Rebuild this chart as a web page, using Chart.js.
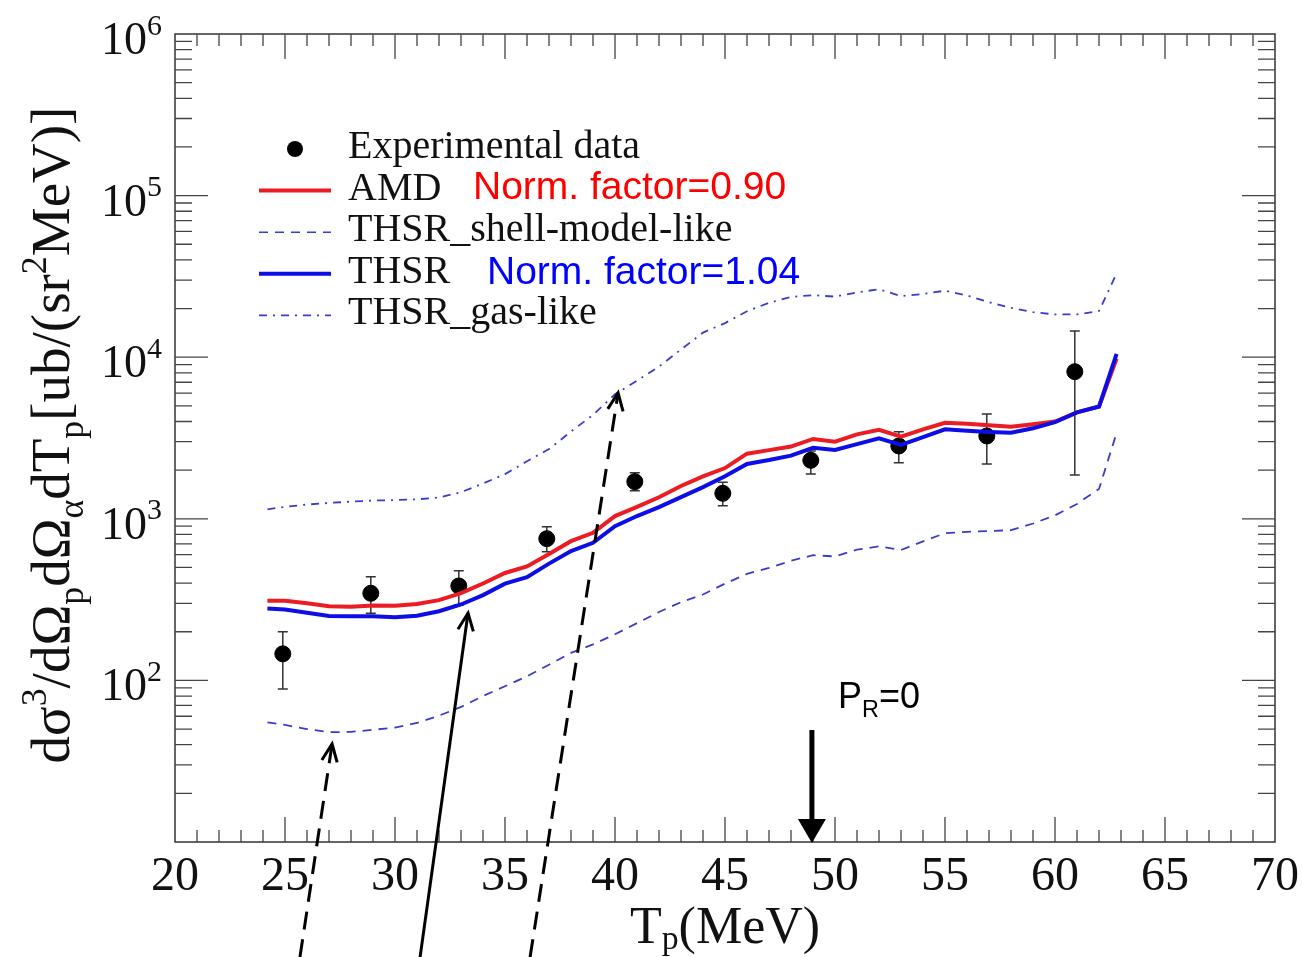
<!DOCTYPE html>
<html>
<head>
<meta charset="utf-8">
<script src="https://cdn.jsdelivr.net/npm/chart.js@4.4.1/dist/chart.umd.min.js"></script>
<style>
  html, body { margin: 0; padding: 0; background: #fff; }
  #wrap { width: 1302px; height: 957px; }
</style>
</head>
<body>
<div id="wrap"><canvas id="xsec"></canvas></div>
<script>
// proton energy grid of the model curves (MeV)
const modelT = [24.2, 25, 26, 27, 28, 29, 30, 31, 32, 33, 34, 35, 36, 37, 38, 39, 40, 41, 42, 43,
                44, 45, 46, 47, 48, 49, 50, 51, 52, 53, 54, 55, 56, 57, 58, 59, 60, 61, 62, 62.8];
const amd = [311, 311, 300, 288, 286, 291, 290, 297, 314, 347, 398, 462, 507, 606, 727, 819, 1040, 1186, 1360, 1595,
             1830, 2060, 2530, 2660, 2800, 3120, 3000, 3330, 3550, 3220, 3580, 3930, 3870, 3790, 3715, 3850, 4000, 4560, 4940, 9800];
const thsr = [279, 275, 262, 250, 249, 249, 246, 251, 268, 295, 337, 397, 435, 528, 632, 710, 900, 1040, 1180, 1361,
              1570, 1835, 2185, 2310, 2460, 2750, 2670, 2900, 3150, 2870, 3200, 3580, 3510, 3450, 3410, 3630, 3960, 4560, 4950, 10500];
const thsrShell = [55, 53, 50, 47.8, 48, 49.5, 51, 54.5, 60.5, 68.5, 80, 92, 106, 125, 148, 167, 193, 226, 265, 305,
                   340, 397, 456, 497, 550, 595, 585, 644, 675, 641, 725, 815, 830, 840, 850, 935, 1050, 1236, 1530, 3400];
const thsrGas = [1145, 1185, 1225, 1253, 1277, 1297, 1305, 1320, 1355, 1460, 1655, 1890, 2270, 2700, 3470, 4390, 5900, 7150, 8750, 11160,
                 14200, 16250, 19250, 21700, 23600, 24200, 23700, 25200, 26300, 23900, 24600, 25800, 24100, 21900, 20200, 19000, 18400, 18400, 19300, 33000];

// measured cross sections with error bar ends
const expT = [24.9, 28.9, 32.9, 36.9, 40.9, 44.9, 48.9, 52.9, 56.9, 60.9];
const expVal = [146, 346, 384, 753, 1697, 1438, 2301, 2822, 3254, 8135];
const expHi = [200, 438, 477, 894, 1929, 1682, 2628, 3459, 4452, 14520];
const expLo = [88.5, 260, 293, 626, 1493, 1205, 1893, 2225, 2183, 1866];

const xTickLabels = [20, 25, 30, 35, 40, 45, 50, 55, 60, 65, 70];
const yTickExponents = [2, 3, 4, 5, 6];

// pointer arrows, tail and tip as [T, value]
const arrows = [
  { from: [25.68, 1.94], to: [27.14, 40.4], dashed: true },
  { from: [31.14, 1.94], to: [33.32, 261], dashed: false },
  { from: [36.14, 1.94], to: [40.14, 6005], dashed: true }
];
// P_R = 0 marker
const prArrow = { T: 48.95, top: 49.3, tip: 10 };

const SERIF = '"Liberation Serif", "Times New Roman", serif';
const SANS = '"Liberation Sans", Arial, sans-serif';
const RED = '#ec1c24';
const BLUE = '#0d0de6';
const DASHBLUE = '#3c3ccc';

function pts(xs, ys) {
  return xs.map((x, i) => ({ x: x, y: ys[i] }));
}

// text runs with sub/superscripts
function richWidth(ctx, parts, size, family) {
  let w = 0;
  for (const p of parts) {
    const s = (p.sub || p.sup) ? size * 0.65 : size;
    ctx.font = s + 'px ' + family;
    w += ctx.measureText(p.t).width;
  }
  return w;
}
function drawRich(ctx, parts, x, y, size, family, subDrop) {
  let cx = x;
  const drop = subDrop === undefined ? 0.25 : subDrop;
  for (const p of parts) {
    const s = (p.sub || p.sup) ? size * 0.65 : size;
    ctx.font = s + 'px ' + family;
    const dy = p.sub ? size * drop : (p.sup ? -size * 0.42 : 0);
    ctx.fillText(p.t, cx, y + dy);
    cx += ctx.measureText(p.t).width;
  }
  return cx - x;
}

function drawArrow(ctx, x0, y0, x1, y1, dashed) {
  ctx.save();
  ctx.strokeStyle = '#000';
  ctx.lineWidth = 3;
  ctx.setLineDash(dashed ? [18, 10] : []);
  ctx.beginPath();
  ctx.moveTo(x0, y0);
  ctx.lineTo(x1, y1);
  ctx.stroke();
  ctx.setLineDash([]);
  const a = Math.atan2(y1 - y0, x1 - x0);
  const len = 19, spread = 0.42;
  ctx.beginPath();
  ctx.moveTo(x1 - len * Math.cos(a - spread), y1 - len * Math.sin(a - spread));
  ctx.lineTo(x1, y1);
  ctx.lineTo(x1 - len * Math.cos(a + spread), y1 - len * Math.sin(a + spread));
  ctx.stroke();
  ctx.restore();
}

const axesPlugin = {
  id: 'axesPlugin',
  beforeDatasetsDraw(chart) {
    const { ctx, scales: { x, y } } = chart;
    ctx.save();
    ctx.strokeStyle = '#333';
    ctx.lineWidth = 1.5;
    expT.forEach((t, i) => {
      const px = x.getPixelForValue(t);
      const top = y.getPixelForValue(expHi[i]);
      const bot = y.getPixelForValue(expLo[i]);
      ctx.beginPath();
      ctx.moveTo(px, top); ctx.lineTo(px, bot);
      ctx.moveTo(px - 5, top); ctx.lineTo(px + 5, top);
      ctx.moveTo(px - 5, bot); ctx.lineTo(px + 5, bot);
      ctx.stroke();
    });
    ctx.restore();
  },
  afterDraw(chart) {
    const { ctx, chartArea: ca, scales: { x, y } } = chart;
    ctx.save();

    // frame
    ctx.strokeStyle = '#333';
    ctx.lineWidth = 1.5;
    ctx.strokeRect(ca.left, ca.top, ca.right - ca.left, ca.bottom - ca.top);

    // inward ticks on all four sides
    ctx.strokeStyle = '#444';
    ctx.lineWidth = 1.3;
    ctx.beginPath();
    for (let t = 21; t < 70; t++) {
      const px = x.getPixelForValue(t);
      const len = t % 5 === 0 ? 25 : 12;
      ctx.moveTo(px, ca.bottom); ctx.lineTo(px, ca.bottom - len);
      ctx.moveTo(px, ca.top); ctx.lineTo(px, ca.top + len);
    }
    for (let d = 1; d <= 5; d++) {
      for (let m = 1; m <= 9; m++) {
        const v = m * Math.pow(10, d);
        if (v <= 10) continue;
        const py = y.getPixelForValue(v);
        const len = m === 1 ? 33 : 17;
        ctx.moveTo(ca.left, py); ctx.lineTo(ca.left + len, py);
        ctx.moveTo(ca.right, py); ctx.lineTo(ca.right - len, py);
      }
    }
    ctx.stroke();

    // tick labels
    ctx.fillStyle = '#111';
    ctx.textBaseline = 'alphabetic';
    ctx.textAlign = 'center';
    ctx.font = '48px ' + SERIF;
    xTickLabels.forEach(v => {
      ctx.fillText(String(v), x.getPixelForValue(v), ca.bottom + 48);
    });
    ctx.textAlign = 'left';
    yTickExponents.forEach(e => {
      const parts = [{ t: '10' }, { t: String(e), sup: true }];
      const w = richWidth(ctx, parts, 46, SERIF);
      drawRich(ctx, parts, 162 - w, y.getPixelForValue(Math.pow(10, e)) + 20, 46, SERIF);
    });

    // axis titles
    const xTitle = [{ t: 'T' }, { t: 'p', sub: true }, { t: '(MeV)' }];
    const xw = richWidth(ctx, xTitle, 52, SERIF);
    drawRich(ctx, xTitle, 725 - xw / 2, 943, 52, SERIF, 0.12);

    const yTitle = [
      { t: 'dσ' }, { t: '3', sup: true }, { t: '/dΩ' }, { t: 'p', sub: true },
      { t: 'dΩ' }, { t: 'α', sub: true }, { t: 'dT' }, { t: 'p', sub: true },
      { t: '[ub/(sr' }, { t: '2', sup: true }, { t: 'MeV)]' }
    ];
    const yw = richWidth(ctx, yTitle, 55, SERIF);
    ctx.save();
    ctx.translate(69, 435);
    ctx.rotate(-Math.PI / 2);
    drawRich(ctx, yTitle, -yw / 2, 0, 55, SERIF);
    ctx.restore();

    // legend
    const rowY = i => 149 + 41.6 * i;
    const x0 = 259, x1 = 331, tx = 348;
    ctx.fillStyle = '#000';
    ctx.beginPath();
    ctx.arc(295, rowY(0), 8, 0, Math.PI * 2);
    ctx.fill();
    const swatch = (i, color, width, dash) => {
      ctx.strokeStyle = color;
      ctx.lineWidth = width;
      ctx.setLineDash(dash);
      ctx.beginPath();
      ctx.moveTo(x0, rowY(i)); ctx.lineTo(x1, rowY(i));
      ctx.stroke();
      ctx.setLineDash([]);
    };
    swatch(1, RED, 4, []);
    swatch(2, DASHBLUE, 1.6, [9, 7]);
    swatch(3, BLUE, 4, []);
    swatch(4, DASHBLUE, 1.6, [8, 6, 2, 6]);
    ctx.fillStyle = '#111';
    ctx.font = '40px ' + SERIF;
    ['Experimental data', 'AMD', 'THSR_shell-model-like', 'THSR', 'THSR_gas-like'].forEach((s, i) => {
      ctx.fillText(s, tx, rowY(i) + 9);
    });
    ctx.font = '39px ' + SANS;
    ctx.fillStyle = '#ff0000';
    ctx.fillText('Norm. factor=0.90', 473, 199);
    ctx.fillStyle = '#0000ff';
    ctx.fillText('Norm. factor=1.04', 487, 284);

    // P_R = 0 label and arrow
    ctx.fillStyle = '#000';
    drawRich(ctx, [{ t: 'P' }, { t: 'R', sub: true }, { t: '=0' }], 838, 708, 36, SANS);
    const ax = x.getPixelForValue(prArrow.T);
    const aTop = y.getPixelForValue(prArrow.top);
    const aTip = y.getPixelForValue(prArrow.tip);
    ctx.strokeStyle = '#000';
    ctx.lineWidth = 5;
    ctx.beginPath();
    ctx.moveTo(ax, aTop); ctx.lineTo(ax, aTip - 20);
    ctx.stroke();
    ctx.beginPath();
    ctx.moveTo(ax - 14, aTip - 23);
    ctx.lineTo(ax + 14, aTip - 23);
    ctx.lineTo(ax, aTip + 1);
    ctx.closePath();
    ctx.fill();

    // pointer arrows
    arrows.forEach(a => {
      drawArrow(ctx,
        x.getPixelForValue(a.from[0]), y.getPixelForValue(a.from[1]),
        x.getPixelForValue(a.to[0]), y.getPixelForValue(a.to[1]), a.dashed);
    });

    ctx.restore();
  }
};

new Chart(document.getElementById('xsec'), {
  type: 'scatter',
  data: {
    datasets: [
      { label: 'THSR', data: pts(modelT, thsr), showLine: true, borderColor: BLUE, borderWidth: 4,
        pointRadius: 0, order: 0 },
      { label: 'AMD', data: pts(modelT, amd), showLine: true, borderColor: RED, borderWidth: 4,
        pointRadius: 0, order: 1 },
      { label: 'THSR_shell-model-like', data: pts(modelT, thsrShell), showLine: true, borderColor: DASHBLUE,
        borderWidth: 1.8, borderDash: [9, 7], pointRadius: 0, order: 2 },
      { label: 'THSR_gas-like', data: pts(modelT, thsrGas), showLine: true, borderColor: DASHBLUE,
        borderWidth: 1.8, borderDash: [8, 6, 2, 6], pointRadius: 0, order: 3 },
      { label: 'Experimental data', data: pts(expT, expVal), showLine: false, pointRadius: 8,
        backgroundColor: '#000', borderColor: '#000', order: 5 }
    ]
  },
  options: {
    responsive: true,
    maintainAspectRatio: false,
    animation: false,
    layout: { padding: { left: 175, top: 34, right: 27, bottom: 115 } },
    plugins: { legend: { display: false }, tooltip: { enabled: false } },
    scales: {
      x: { type: 'linear', min: 20, max: 70, display: false },
      y: { type: 'logarithmic', min: 10, max: 1e6, display: false }
    }
  },
  plugins: [axesPlugin]
});
</script>
</body>
</html>
